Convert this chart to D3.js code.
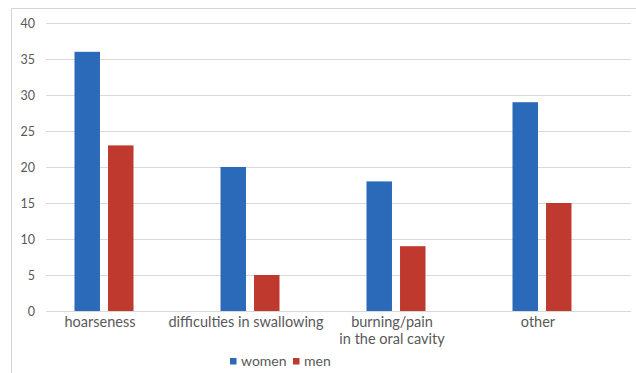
<!DOCTYPE html>
<html>
<head>
<meta charset="utf-8">
<script src="https://cdn.jsdelivr.net/npm/d3@7"></script>
<style>
  html, body { margin: 0; padding: 0; background: #fff; }
  svg { display: block; font-family: Lato, "Open Sans", sans-serif; }
</style>
</head>
<body>
<svg id="chart" width="636" height="373"></svg>
<script>
// Symptom counts by sex
const categories = ["hoarseness", "difficulties in swallowing", "burning/pain\nin the oral cavity", "other"];
const seriesNames = ["women", "men"];
const women = [36, 20, 18, 29];
const men = [23, 5, 9, 15];
const yTicks = [0, 5, 10, 15, 20, 25, 30, 35, 40];

const colors = { women: "#2a6ab8", men: "#c0392f" };
const textColor = "#595959";

const svg = d3.select("#chart");
const W = 636, H = 373;

// outer frame (left and top edges visible)
svg.append("line").attr("x1", 11.5).attr("x2", 11.5).attr("y1", 8.5).attr("y2", H)
  .attr("stroke", "#d4d4d4");
svg.append("line").attr("x1", 11.5).attr("x2", W).attr("y1", 8.5).attr("y2", 8.5)
  .attr("stroke", "#d4d4d4");

const gridLeft = 46, gridRight = 631;
const y = d3.scaleLinear().domain([0, 40]).range([311, 23]);

const x0 = d3.scaleBand().domain(categories).range([31, 615]).paddingInner(0).paddingOuter(0);
const x1 = d3.scaleBand().domain(seriesNames)
  .range([x0.bandwidth() / 2 - 29.5, x0.bandwidth() / 2 + 29.5])
  .paddingInner(0.24).paddingOuter(0);

// gridlines
svg.append("g").selectAll("line").data(yTicks).join("line")
  .attr("x1", gridLeft).attr("x2", gridRight)
  .attr("y1", d => Math.round(y(d)) + 0.5).attr("y2", d => Math.round(y(d)) + 0.5)
  .attr("stroke", "#d9d9d9").attr("stroke-width", 1);

// y axis labels
const yAxis = d3.axisLeft(y).tickValues(yTicks).tickSize(0).tickPadding(0);
const gy = svg.append("g").attr("transform", "translate(35,0)").call(yAxis);
gy.select(".domain").remove();
gy.selectAll("text").attr("fill", textColor).style("font-size", "12.5px")
  .style("font-family", "Lato, sans-serif");

// bars
const rows = categories.map((c, i) => ({ cat: c, values: { women: women[i], men: men[i] } }));
const groups = svg.append("g").selectAll("g").data(rows).join("g")
  .attr("transform", d => `translate(${x0(d.cat)},0)`);
groups.selectAll("rect").data(d => seriesNames.map(s => ({ s, v: d.values[s] }))).join("rect")
  .attr("x", d => x1(d.s))
  .attr("width", x1.bandwidth())
  .attr("y", d => y(d.v))
  .attr("height", d => y(0) - y(d.v))
  .attr("fill", d => colors[d.s]);

// category labels
const labels = svg.append("g").selectAll("text").data(categories).join("text")
  .attr("x", d => x0(d) + x0.bandwidth() / 2 - 4)
  .attr("y", 327)
  .attr("text-anchor", "middle")
  .attr("fill", textColor)
  .style("font-size", "14.5px");
labels.each(function (d) {
  const t = d3.select(this);
  d.split("\n").forEach((line, i) => {
    t.append("tspan").attr("x", t.attr("x")).attr("dy", i === 0 ? 0 : 17).text(line);
  });
});

// legend
const legend = svg.append("g").attr("transform", "translate(230,0)");
const lx = d3.scaleOrdinal().domain(seriesNames).range([0, 63]);
const li = legend.selectAll("g").data(seriesNames).join("g")
  .attr("transform", d => `translate(${lx(d)},0)`);
li.append("rect").attr("x", 0).attr("y", 358).attr("width", 6.5).attr("height", 6.5)
  .attr("fill", d => colors[d]);
li.append("text").attr("x", 11).attr("y", 366).text(d => d)
  .attr("fill", textColor).style("font-size", "14px");
</script>
</body>
</html>
